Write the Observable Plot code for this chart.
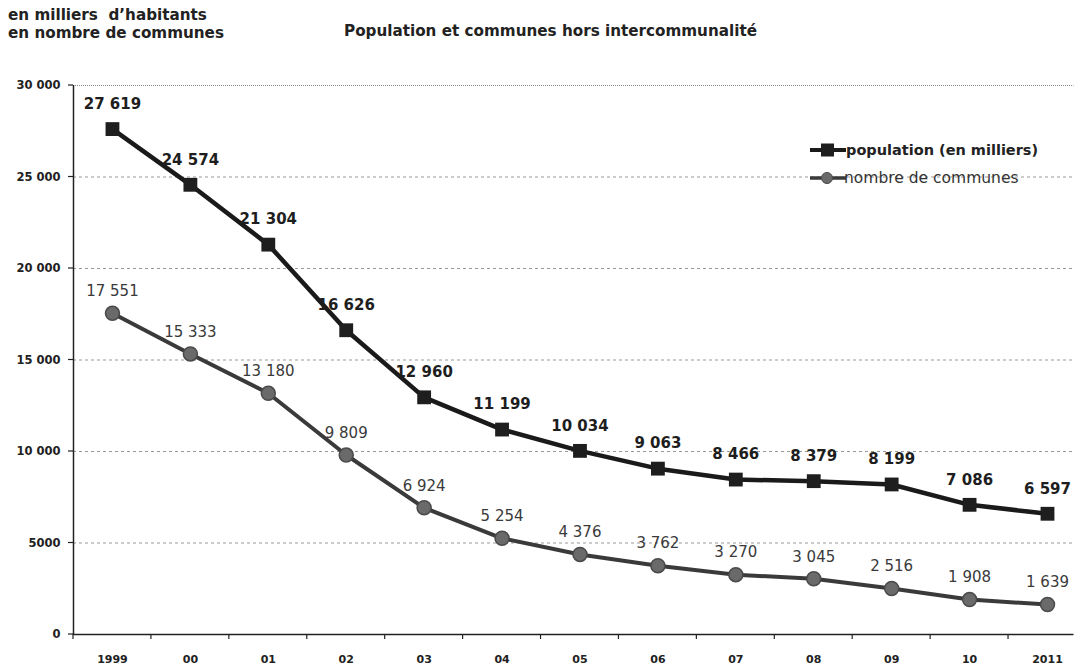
<!DOCTYPE html>
<html><head><meta charset="utf-8">
<script src="https://cdn.jsdelivr.net/npm/d3@7"></script>
<script src="https://cdn.jsdelivr.net/npm/@observablehq/plot@0.6"></script>
<style>
body{margin:0;background:#fff;font-family:"DejaVu Sans",sans-serif;}
#wrap{position:relative;width:1077px;height:668px;}
#chart{position:absolute;left:0;top:0;}
.t{position:absolute;font-weight:bold;font-size:15.2px;color:#222;line-height:18px;}
</style></head><body>
<div id="wrap">
<div id="chart"></div>
<div class="t" style="left:8px;top:6px;">en milliers&nbsp; d’habitants<br>en nombre de communes</div>
<div class="t" style="left:344px;top:22px;">Population et communes hors intercommunalité</div>
</div>
<script>
const years = ["1999","00","01","02","03","04","05","06","07","08","09","10","2011"];
const population = [27619,24574,21304,16626,12960,11199,10034,9063,8466,8379,8199,7086,6597];
const communes = [17551,15333,13180,9809,6924,5254,4376,3762,3270,3045,2516,1908,1639];
const yTicks = [0,5000,10000,15000,20000,25000,30000];
const yTickLabels = ["0","5000","10 000","15 000","20 000","25 000","30 000"];
const seriesNames = ["population (en milliers)","nombre de communes"];

const FONT = "DejaVu Sans, sans-serif";
const fmt = v => { const s = String(v); return s.length > 3 ? s.slice(0, -3) + " " + s.slice(-3) : s; };
const pop = years.map((y,i)=>({i, y, v: population[i]}));
const com = years.map((y,i)=>({i, y, v: communes[i]}));
const bounds = d3.range(years.length).map(i => i - 0.5);
const grid = yTicks.filter(v => v > 0 && v < 30000);
const xEnd = 12.34;

const chart = Plot.plot({
  width: 1077, height: 668,
  marginLeft: 73, marginRight: 0, marginTop: 85, marginBottom: 34,
  x: {type: "linear", domain: [-0.5, 12.385], axis: null},
  y: {type: "linear", domain: [0, 30000], axis: null},
  style: {fontFamily: FONT, background: "#fff"},
  marks: [
    Plot.ruleY(grid, {y: d => d, x1: -0.5, x2: xEnd, stroke: "#999", strokeDasharray: "3,3", strokeWidth: 1}),
    Plot.ruleY([30000], {y: d => d, x1: -0.5, x2: xEnd, stroke: "#888", strokeDasharray: "1,1", strokeWidth: 1}),
    Plot.ruleX([-0.5], {x: d => d, y1: 0, y2: 30000, stroke: "#222", strokeWidth: 1.5}),
    Plot.ruleY([0], {y: d => d, x1: -0.5, x2: xEnd, stroke: "#222", strokeWidth: 1.5}),
    Plot.text(yTicks, {x: -0.5, y: d => d, text: (d,i) => yTickLabels[i], textAnchor: "end", dx: -13, fontWeight: "bold", fontSize: 11.5, fill: "#222"}),
    Plot.text(years, {x: (d,i) => i, y: 0, text: d => d, dy: 25, fontWeight: "bold", fontSize: 11, fill: "#222"}),
    Plot.line(com, {x: "i", y: "v", stroke: "#3a3a3a", strokeWidth: 4}),
    Plot.dot(com, {x: "i", y: "v", r: 7, fill: "#6a6a6a", stroke: "#4a4a4a", strokeWidth: 1.5}),
    Plot.text(com, {x: "i", y: "v", text: d => fmt(d.v), dy: -22, fontSize: 15, fill: "#3a3a3a"}),
    Plot.line(pop, {x: "i", y: "v", stroke: "#1a1a1a", strokeWidth: 4.5}),
    Plot.dot(pop, {x: "i", y: "v", symbol: "square", r: 7.8, fill: "#1e1e1e", stroke: "none"}),
    Plot.text(pop, {x: "i", y: "v", text: d => fmt(d.v), dy: -25, fontSize: 15, fontWeight: "bold", fill: "#1e1e1e"})
  ]
});
document.getElementById("chart").appendChild(chart);

const sx = chart.scale("x"), sy = chart.scale("y");
const svg = d3.select(chart);
const tk = svg.append("g").attr("stroke", "#222").attr("stroke-width", 1.2);
yTicks.forEach(v => tk.append("line").attr("x1", sx.apply(-0.5) - 5).attr("x2", sx.apply(-0.5)).attr("y1", sy.apply(v)).attr("y2", sy.apply(v)));
bounds.forEach(b => tk.append("line").attr("x1", sx.apply(b)).attr("x2", sx.apply(b)).attr("y1", sy.apply(0)).attr("y2", sy.apply(0) + 5));

const lg = svg.append("g").attr("font-family", FONT).attr("font-size", 15).attr("text-anchor","start");
lg.append("line").attr("x1",810).attr("x2",846).attr("y1",150).attr("y2",150).attr("stroke","#1a1a1a").attr("stroke-width",4);
lg.append("rect").attr("x",821).attr("y",143.5).attr("width",13).attr("height",13).attr("fill","#1e1e1e");
lg.append("text").attr("x",846).attr("y",155).attr("font-weight","bold").attr("font-size",14.5).attr("fill","#222").text(seriesNames[0]);
lg.append("line").attr("x1",810).attr("x2",846).attr("y1",178).attr("y2",178).attr("stroke","#3a3a3a").attr("stroke-width",3.5);
lg.append("circle").attr("cx",827).attr("cy",178).attr("r",5.5).attr("fill","#6a6a6a").attr("stroke","#4a4a4a");
lg.append("text").attr("x",844).attr("y",183).attr("fill","#333").attr("font-size",15.5).text(seriesNames[1]);
</script>
</body></html>
